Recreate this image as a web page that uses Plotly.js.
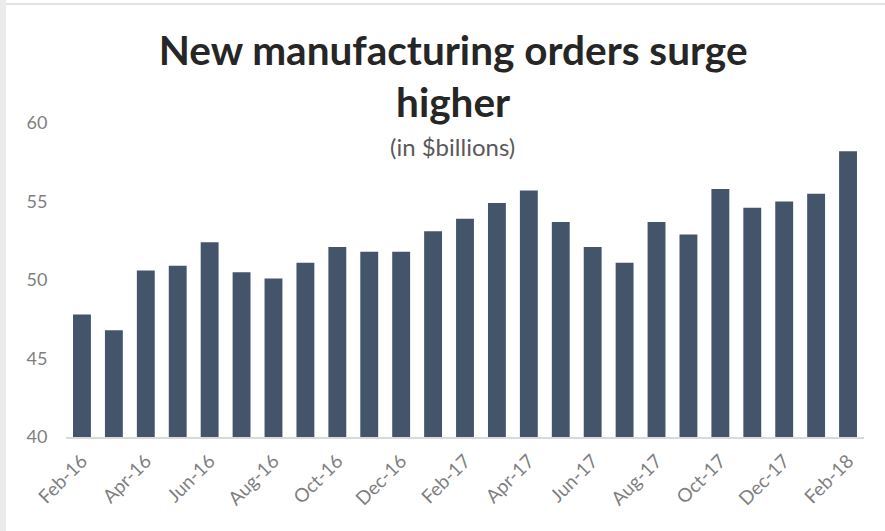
<!DOCTYPE html>
<html>
<head>
<meta charset="utf-8">
<script src="https://cdn.plot.ly/plotly-3.0.1.min.js"></script>
<style>
  html, body { margin: 0; padding: 0; background: #ffffff; }
  #chart { position: absolute; left: 0; top: 0; width: 885px; height: 531px; }
  #edgeL { position: absolute; left: 0; top: 0; width: 6px; height: 531px; background: #ebebeb; pointer-events: none; }
  #edgeT { position: absolute; left: 6px; top: 3px; width: 879px; height: 2px; background: #e2e2e2; pointer-events: none; }
</style>
</head>
<body>
<div id="chart"></div>
<div id="edgeL"></div>
<div id="edgeT"></div>
<script>
const months = ["Feb-16","Mar-16","Apr-16","May-16","Jun-16","Jul-16","Aug-16","Sep-16","Oct-16","Nov-16","Dec-16","Jan-17",
                "Feb-17","Mar-17","Apr-17","May-17","Jun-17","Jul-17","Aug-17","Sep-17","Oct-17","Nov-17","Dec-17","Jan-18","Feb-18"];
const orders = [47.8, 46.8, 50.6, 50.9, 52.4, 50.5, 50.1, 51.1, 52.1, 51.8, 51.8, 53.1,
                53.9, 54.9, 55.7, 53.7, 52.1, 51.1, 53.7, 52.9, 55.8, 54.6, 55.0, 55.5, 58.2];
const tickLabels = ["Feb-16","Apr-16","Jun-16","Aug-16","Oct-16","Dec-16","Feb-17","Apr-17","Jun-17","Aug-17","Oct-17","Dec-17","Feb-18"];
const yTicks = [40, 45, 50, 55, 60];

const FONT = "Lato, 'Open Sans', sans-serif";

const trace = {
  type: "bar",
  x: months,
  y: orders,
  marker: { color: "#44546a" },
  hoverinfo: "x+y"
};

const layout = {
  width: 885,
  height: 531,
  margin: { l: 66, r: 21, t: 123, b: 94 },
  paper_bgcolor: "#ffffff",
  plot_bgcolor: "#ffffff",
  bargap: 0.44,
  showlegend: false,
  font: { family: FONT, color: "#7f7f7f", size: 18 },
  title: {
    text: "<b>New manufacturing orders surge<br>higher</b>",
    font: { family: FONT, size: 40.5, color: "#262626" },
    xref: "container", yref: "container",
    x: 0.512, y: 0.878, xanchor: "center", yanchor: "middle"
  },
  annotations: [{
    text: "(in $billions)",
    xref: "paper", yref: "paper",
    x: 0.484, y: 0.924, xanchor: "center", yanchor: "middle",
    showarrow: false,
    font: { family: FONT, size: 24, color: "#595959" }
  }],
  xaxis: {
    type: "category",
    tickmode: "array",
    tickvals: tickLabels,
    ticktext: tickLabels,
    tickangle: -45,
    showline: true,
    linecolor: "#d9d9d9",
    linewidth: 1.5,
    ticks: "outside",
    ticklen: 4,
    tickcolor: "rgba(0,0,0,0)",
    showgrid: false,
    zeroline: false,
    tickfont: { family: FONT, size: 19, color: "#7f7f7f" }
  },
  yaxis: {
    range: [40, 60],
    tickmode: "array",
    tickvals: yTicks,
    ticktext: yTicks.map(String),
    showgrid: false,
    zeroline: false,
    showline: false,
    ticks: "outside",
    ticklen: 14,
    tickcolor: "rgba(0,0,0,0)",
    tickfont: { family: FONT, size: 18, color: "#7f7f7f" }
  }
};

Plotly.newPlot("chart", [trace], layout, { displayModeBar: false, staticPlot: true });
</script>
</body>
</html>
